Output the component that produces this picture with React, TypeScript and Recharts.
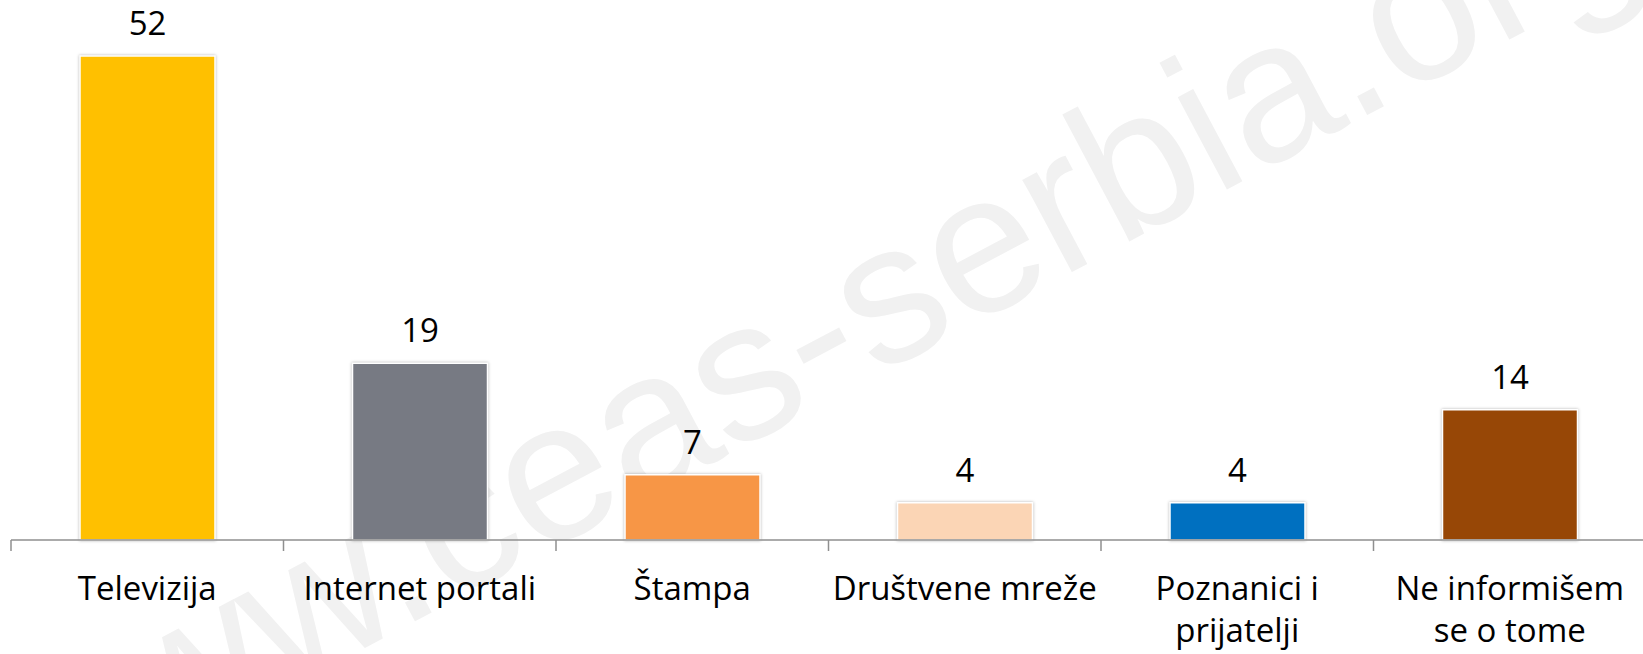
import React from "react";
import { BarChart, Bar, XAxis, YAxis, Cell, LabelList } from "recharts";

const categories = [
  "Televizija",
  "Internet portali",
  "Štampa",
  "Društvene mreže",
  "Poznanici i prijatelji",
  "Ne informišem se o tome",
];
// how each category label breaks over lines under the axis
const tickLines = [
  ["Televizija"],
  ["Internet portali"],
  ["Štampa"],
  ["Društvene mreže"],
  ["Poznanici i", "prijatelji"],
  ["Ne informišem", "se o tome"],
];
const values = [52, 19, 7, 4, 4, 14];
const colors = ["#FFC000", "#777A83", "#F79646", "#FBD5B5", "#0070C0", "#974706"];

const data = categories.map((name, i) => ({ name, value: values[i] }));

const W = 1646;
const H = 654;
const LEFT = 11;
const HALF_BAND = (W - LEFT) / categories.length / 2;

function CategoryTick(props: any) {
  const { x, y, payload } = props;
  const idx = categories.indexOf(payload.value);
  const lines = tickLines[idx] ?? [payload.value];
  const bx = x - HALF_BAND;
  return (
    <g>
      <line x1={bx} y1={y} x2={bx} y2={y + 11} stroke="#8f8f8f" strokeWidth={1.5} />
      {idx === categories.length - 1 && (
        <line x1={x + HALF_BAND} y1={y} x2={x + HALF_BAND} y2={y + 11} stroke="#8f8f8f" strokeWidth={1.5} />
      )}
      <text x={x} y={y} textAnchor="middle" fontFamily="Open Sans" fontSize={33} fill="#000">
        {lines.map((l, i) => (
          <tspan key={i} x={x} dy={i === 0 ? 60 : 42}>
            {l}
          </tspan>
        ))}
      </text>
    </g>
  );
}

export default function App() {
  return (
    <div style={{ position: "relative", width: 1643, height: H, overflow: "hidden", background: "#fff" }}>
      <style>{`body{margin:0}.recharts-bar-rectangle path{filter:drop-shadow(0 0 1.5px rgba(0,0,0,0.3))}`}</style>
      <svg width={1643} height={H} style={{ position: "absolute", left: 0, top: 0 }}>
        <text
          x={30}
          y={826}
          transform="rotate(-28 30 826)"
          fontFamily="Liberation Sans"
          fontSize={198}
          fill="#f1f1f1"
        >
          www.ceas-serbia.org
        </text>
      </svg>
      <div style={{ position: "absolute", left: 0, top: 0 }}>
        <BarChart width={W} height={H} data={data} margin={{ top: 56, right: 0, bottom: 0, left: LEFT }}>
          <YAxis hide domain={[0, 52]} />
          <XAxis
            dataKey="name"
            height={114}
            interval={0}
            tickSize={0}
            tickMargin={0}
            tickLine={false}
            axisLine={{ stroke: "#8f8f8f", strokeWidth: 1.5 }}
            tick={<CategoryTick />}
          />
          <Bar dataKey="value" barSize={135} stroke="#ffffff" strokeWidth={1.5} isAnimationActive={false}>
            {data.map((d, i) => (
              <Cell key={d.name} fill={colors[i]} />
            ))}
            <LabelList
              dataKey="value"
              position="top"
              offset={21}
              style={{ fontFamily: "Open Sans", fontSize: 33, fill: "#000" }}
            />
          </Bar>
        </BarChart>
      </div>
    </div>
  );
}
